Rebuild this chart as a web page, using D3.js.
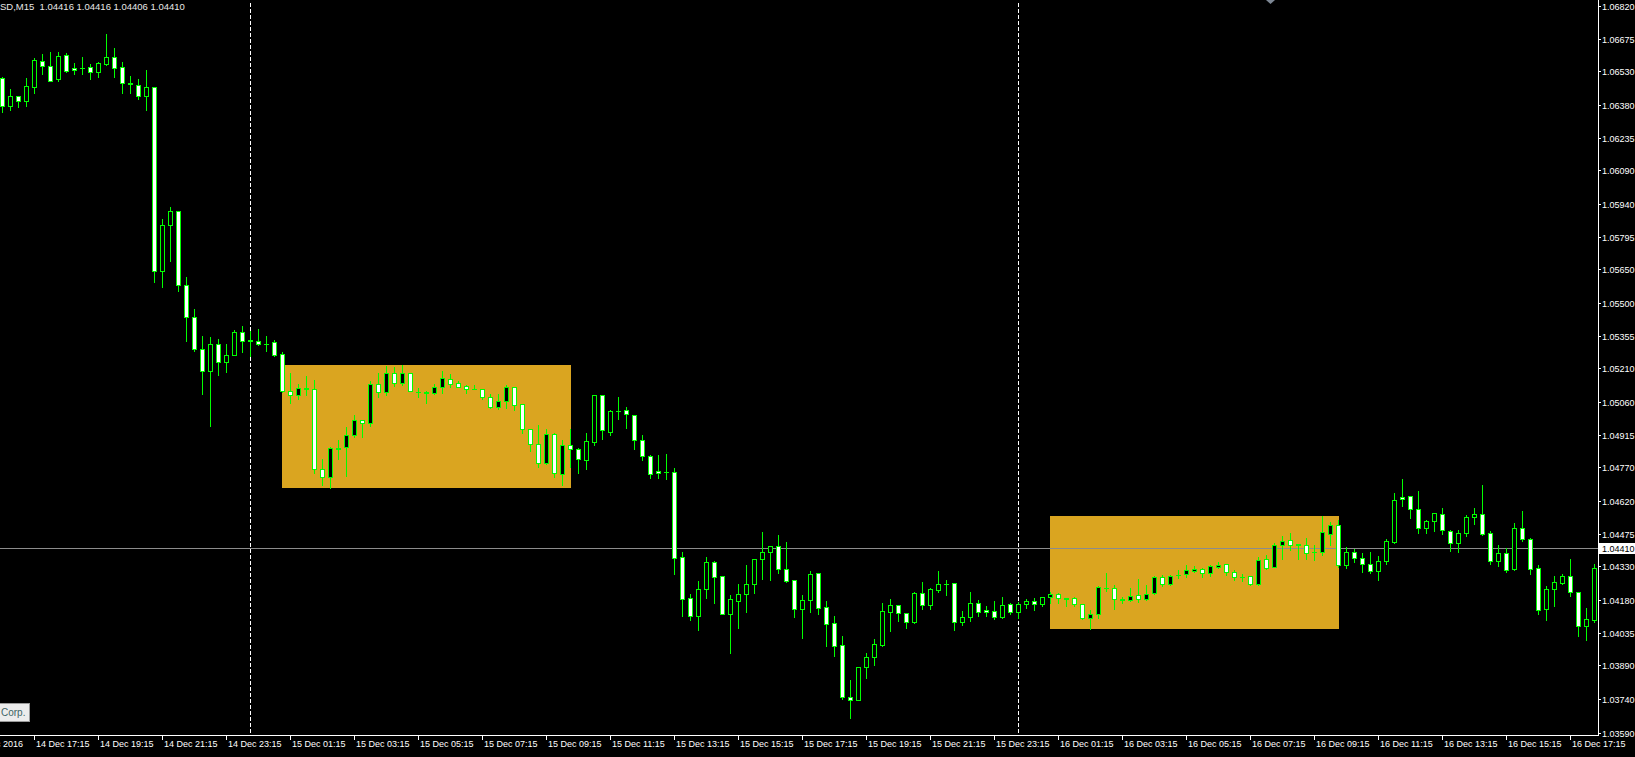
<!DOCTYPE html>
<html><head><meta charset="utf-8">
<script src="https://cdn.jsdelivr.net/npm/d3@7"></script>
<style>html,body{margin:0;padding:0;background:#000;overflow:hidden}svg{display:block}</style>
</head><body><svg id="c" width="1635" height="757"></svg>
<script>
// ---------- data ----------
const titleText = "SD,M15  1.04416 1.04416 1.04406 1.04410";
const firstBarTime = "14 Dec 2016 16:15";
const barMinutes = 15;

const opens = [
1.06498,1.06374,1.06418,1.06396,1.06461,1.06574,1.06552,1.06497,1.06600,1.06543,
1.06546,1.06547,1.06528,1.06563,1.06592,1.06547,1.06476,1.06471,1.06421,1.06458,
1.05640,1.05845,1.05907,1.05578,1.05436,1.05294,1.05196,1.05316,1.05236,1.05271,
1.05369,1.05332,1.05329,1.05319,1.05325,1.05273,1.05107,1.05092,1.05124,1.05116,
1.04761,1.04725,1.04852,1.04861,1.04915,1.04978,1.04965,1.05138,1.05106,1.05187,
1.05146,1.05187,1.05104,1.05106,1.05098,1.05128,1.05161,1.05143,1.05129,1.05119,
1.05116,1.05081,1.05039,1.05063,1.05125,1.05051,1.04941,1.04872,1.04787,1.04916,
1.04738,1.04867,1.04849,1.04803,1.04880,1.05089,1.04928,1.05020,1.05023,1.05000,
1.04889,1.04818,1.04752,1.04749,1.04747,1.04369,1.04187,1.04110,1.04227,1.04347,
1.04285,1.04119,1.04177,1.04205,1.04249,1.04363,1.04392,1.04418,1.04316,1.04267,
1.04138,1.04178,1.04298,1.04147,1.04076,1.03978,1.03747,1.03734,1.03880,1.03925,
1.03981,1.04128,1.04156,1.04120,1.04080,1.04209,1.04156,1.04226,1.04251,1.04254,
1.04080,1.04106,1.04165,1.04134,1.04132,1.04106,1.04160,1.04125,1.04160,1.04174,
1.04160,1.04192,1.04205,1.04187,1.04187,1.04160,1.04098,1.04116,1.04232,1.04232,
1.04183,1.04178,1.04203,1.04186,1.04209,1.04280,1.04252,1.04289,1.04294,1.04310,
1.04316,1.04301,1.04328,1.04338,1.04303,1.04283,1.04285,1.04249,1.04360,1.04328,
1.04423,1.04445,1.04427,1.04423,1.04393,1.04392,1.04474,1.04512,1.04334,1.04392,
1.04365,1.04338,1.04307,1.04352,1.04436,1.04636,1.04641,1.04583,1.04498,1.04529,
1.04561,1.04485,1.04432,1.04476,1.04547,1.04561,1.04476,1.04352,1.04387,1.04316,
1.04498,1.04449,1.04320,1.04138,1.04227,1.04254,1.04285,1.04214,1.04063,1.04089];

const highs = [
1.06503,1.06449,1.06421,1.06498,1.06589,1.06606,1.06615,1.06615,1.06609,1.06566,
1.06593,1.06562,1.06571,1.06695,1.06633,1.06571,1.06508,1.06494,1.06535,1.06460,
1.05873,1.05926,1.05908,1.05615,1.05473,1.05353,1.05348,1.05340,1.05317,1.05380,
1.05397,1.05375,1.05384,1.05353,1.05335,1.05282,1.05187,1.05140,1.05175,1.05158,
1.04806,1.04858,1.04891,1.04947,1.05000,1.04980,1.05153,1.05187,1.05220,1.05214,
1.05223,1.05187,1.05122,1.05107,1.05140,1.05196,1.05184,1.05155,1.05134,1.05134,
1.05116,1.05095,1.05095,1.05134,1.05125,1.05051,1.04941,1.04956,1.04938,1.04924,
1.04891,1.04938,1.04855,1.04922,1.05091,1.05091,1.05023,1.05082,1.05038,1.05002,
1.04913,1.04824,1.04824,1.04829,1.04766,1.04393,1.04205,1.04264,1.04371,1.04353,
1.04285,1.04202,1.04251,1.04335,1.04362,1.04482,1.04420,1.04469,1.04437,1.04269,
1.04202,1.04309,1.04300,1.04175,1.04109,1.04020,1.03824,1.03880,1.03943,1.04006,
1.04166,1.04184,1.04158,1.04122,1.04214,1.04260,1.04232,1.04309,1.04269,1.04255,
1.04131,1.04215,1.04180,1.04153,1.04175,1.04193,1.04165,1.04172,1.04183,1.04187,
1.04195,1.04217,1.04209,1.04189,1.04193,1.04163,1.04134,1.04242,1.04300,1.04245,
1.04193,1.04233,1.04273,1.04245,1.04285,1.04291,1.04292,1.04313,1.04334,1.04332,
1.04320,1.04334,1.04349,1.04338,1.04313,1.04297,1.04285,1.04369,1.04380,1.04432,
1.04464,1.04477,1.04430,1.04455,1.04423,1.04553,1.04526,1.04535,1.04415,1.04406,
1.04387,1.04392,1.04375,1.04451,1.04655,1.04718,1.04641,1.04664,1.04535,1.04566,
1.04589,1.04489,1.04489,1.04556,1.04589,1.04691,1.04485,1.04424,1.04409,1.04521,
1.04575,1.04454,1.04334,1.04240,1.04285,1.04294,1.04360,1.04215,1.04143,1.04338];

const lows = [
1.06350,1.06357,1.06371,1.06375,1.06433,1.06519,1.06486,1.06486,1.06526,1.06519,
1.06519,1.06497,1.06506,1.06557,1.06504,1.06434,1.06434,1.06406,1.06357,1.05594,
1.05572,1.05688,1.05554,1.05332,1.05288,1.05096,1.04954,1.05181,1.05194,1.05268,
1.05283,1.05265,1.05313,1.05288,1.05265,1.05105,1.05054,1.05072,1.05092,1.04746,
1.04691,1.04679,1.04806,1.04732,1.04906,1.04906,1.04955,1.05084,1.05092,1.05131,
1.05137,1.05107,1.05081,1.05054,1.05097,1.05101,1.05128,1.05128,1.05098,1.05116,
1.05072,1.05033,1.05027,1.05033,1.05024,1.04921,1.04844,1.04769,1.04786,1.04728,
1.04689,1.04772,1.04743,1.04762,1.04869,1.04897,1.04913,1.04986,1.04944,1.04851,
1.04803,1.04722,1.04722,1.04718,1.04295,1.04110,1.04091,1.04046,1.04190,1.04166,
1.04119,1.03946,1.04055,1.04126,1.04212,1.04274,1.04269,1.04301,1.04260,1.04104,
1.04011,1.04126,1.04117,1.03975,1.03932,1.03738,1.03657,1.03734,1.03832,1.03892,
1.03977,1.04043,1.04088,1.04057,1.04079,1.04141,1.04141,1.04217,1.04203,1.04048,
1.04070,1.04088,1.04110,1.04110,1.04097,1.04101,1.04118,1.04101,1.04146,1.04137,
1.04155,1.04168,1.04168,1.04154,1.04154,1.04094,1.04052,1.04100,1.04218,1.04141,
1.04166,1.04174,1.04172,1.04181,1.04208,1.04243,1.04245,1.04276,1.04280,1.04306,
1.04280,1.04286,1.04322,1.04292,1.04270,1.04266,1.04248,1.04246,1.04317,1.04326,
1.04363,1.04403,1.04362,1.04362,1.04359,1.04381,1.04426,1.04325,1.04323,1.04347,
1.04306,1.04301,1.04270,1.04338,1.04435,1.04599,1.04546,1.04479,1.04479,1.04488,
1.04475,1.04399,1.04395,1.04466,1.04519,1.04470,1.04338,1.04332,1.04306,1.04315,
1.04443,1.04297,1.04116,1.04089,1.04155,1.04249,1.04196,1.04018,1.04003,1.04083];

const closes = [
1.06374,1.06418,1.06396,1.06463,1.06578,1.06552,1.06488,1.06596,1.06532,1.06534,
1.06544,1.06528,1.06565,1.06592,1.06546,1.06476,1.06474,1.06421,1.06458,1.05640,
1.05845,1.05911,1.05578,1.05436,1.05294,1.05196,1.05316,1.05236,1.05271,1.05369,
1.05329,1.05334,1.05316,1.05317,1.05267,1.05107,1.05089,1.05122,1.05116,1.04761,
1.04725,1.04854,1.04854,1.04915,1.04978,1.04965,1.05138,1.05106,1.05187,1.05146,
1.05187,1.05107,1.05103,1.05098,1.05125,1.05165,1.05140,1.05128,1.05119,1.05118,
1.05081,1.05039,1.05063,1.05125,1.05048,1.04941,1.04872,1.04790,1.04916,1.04743,
1.04867,1.04849,1.04805,1.04885,1.05089,1.04934,1.05018,1.05021,1.05005,1.04889,
1.04821,1.04741,1.04743,1.04750,1.04368,1.04186,1.04110,1.04227,1.04347,1.04283,
1.04119,1.04183,1.04205,1.04249,1.04360,1.04392,1.04418,1.04316,1.04266,1.04138,
1.04178,1.04294,1.04143,1.04074,1.03977,1.03747,1.03734,1.03880,1.03925,1.03983,
1.04129,1.04156,1.04120,1.04080,1.04209,1.04156,1.04227,1.04249,1.04252,1.04080,
1.04103,1.04165,1.04128,1.04125,1.04106,1.04156,1.04125,1.04160,1.04174,1.04160,
1.04192,1.04205,1.04187,1.04186,1.04160,1.04098,1.04116,1.04236,1.04233,1.04183,
1.04181,1.04199,1.04186,1.04208,1.04280,1.04252,1.04288,1.04291,1.04312,1.04319,
1.04298,1.04329,1.04337,1.04303,1.04283,1.04282,1.04249,1.04356,1.04322,1.04423,
1.04440,1.04426,1.04426,1.04387,1.04392,1.04480,1.04512,1.04337,1.04392,1.04365,
1.04338,1.04307,1.04352,1.04440,1.04623,1.04627,1.04583,1.04498,1.04529,1.04565,
1.04489,1.04432,1.04476,1.04547,1.04561,1.04472,1.04352,1.04387,1.04312,1.04498,
1.04449,1.04316,1.04134,1.04227,1.04258,1.04285,1.04214,1.04063,1.04094,1.04320];

const yTickValues = [1.06820,1.06675,1.06530,1.06380,1.06235,1.06090,1.05940,1.05795,1.05650,1.05500,
  1.05355,1.05210,1.05060,1.04915,1.04770,1.04620,1.04475,1.04330,1.04180,1.04035,1.03890,1.03740,1.03590];
const currentPrice = 1.04410;

const xTickLabels = ["14 Dec 17:15","14 Dec 19:15","14 Dec 21:15","14 Dec 23:15",
  "15 Dec 01:15","15 Dec 03:15","15 Dec 05:15","15 Dec 07:15","15 Dec 09:15","15 Dec 11:15",
  "15 Dec 13:15","15 Dec 15:15","15 Dec 17:15","15 Dec 19:15","15 Dec 21:15","15 Dec 23:15",
  "16 Dec 01:15","16 Dec 03:15","16 Dec 05:15","16 Dec 07:15","16 Dec 09:15","16 Dec 11:15",
  "16 Dec 13:15","16 Dec 15:15","16 Dec 17:15"];
const firstDateLabel = "14 Dec 2016";
const firstDateLabelTime = "14 Dec 2016 15:15";
const periodSeparators = ["15 Dec 2016 00:00","16 Dec 2016 00:00"];

const rectFrom = ["15 Dec 2016 01:00","16 Dec 2016 01:00"];
const rectTo   = ["15 Dec 2016 10:00","16 Dec 2016 10:00"];
const rectHigh = [1.05224, 1.04553];
const rectLow  = [1.04682, 1.04055];

const chartShiftTime = "16 Dec 2016 07:45";
const footerText = "Corp.";

// ---------- drawing ----------
const W = 1635, H = 757, plotR = 1598, plotB = 735;
const FONT = "'Liberation Sans', Arial, sans-serif";
const FS = 9;
const parse = d3.timeParse("%d %b %Y %H:%M");
const t0 = parse(firstBarTime);
const barTimes = opens.map((_, i) => d3.timeMinute.offset(t0, barMinutes * i));

const x = d3.scaleTime().domain([barTimes[0], barTimes[barTimes.length - 1]]).range([2, 1594]);
const y = d3.scaleLinear().domain([1.03590, 1.06820]).range([732.7, 6]);

const svg = d3.select("#c");
svg.append("rect").attr("width", W).attr("height", H).attr("fill", "#000");

svg.append("defs").append("clipPath").attr("id", "plot")
  .append("rect").attr("x", 0).attr("y", 0).attr("width", plotR).attr("height", plotB);
const plot = svg.append("g").attr("clip-path", "url(#plot)");

// rectangles
plot.selectAll("rect.box").data(rectFrom).join("rect").attr("class", "box")
  .attr("x", (d) => Math.round(x(parse(d))))
  .attr("y", (d, i) => Math.round(y(rectHigh[i])))
  .attr("width", (d, i) => Math.round(x(parse(rectTo[i]))) - Math.round(x(parse(d))) + 1)
  .attr("height", (d, i) => Math.round(y(rectLow[i])) - Math.round(y(rectHigh[i])) + 1)
  .attr("fill", "#DAA520");

// period separators
plot.selectAll("line.sep").data(periodSeparators).join("line").attr("class", "sep")
  .attr("x1", (d) => Math.round(x(parse(d))) + 0.5).attr("x2", (d) => Math.round(x(parse(d))) + 0.5)
  .attr("y1", 3).attr("y2", plotB)
  .attr("stroke", "#fff").attr("stroke-width", 1).attr("stroke-dasharray", "4,2")
  .attr("shape-rendering", "crispEdges");

// current price line
const py = Math.round(y(currentPrice)) + 0.5;
plot.append("line").attr("x1", 0).attr("x2", plotR).attr("y1", py).attr("y2", py)
  .attr("stroke", "#8c8c8c").attr("stroke-width", 1).attr("shape-rendering", "crispEdges");

// candles
const LIME = "#00ff00";
const cg = plot.append("g").attr("shape-rendering", "crispEdges");
opens.forEach((o, i) => {
  const c = closes[i], cx = Math.round(x(barTimes[i]));
  const yh = Math.round(y(highs[i])), yl = Math.round(y(lows[i]));
  cg.append("line").attr("x1", cx + 0.5).attr("x2", cx + 0.5).attr("y1", yh).attr("y2", yl + 1)
    .attr("stroke", LIME).attr("stroke-width", 1);
  const top = Math.round(y(Math.max(o, c))), bot = Math.round(y(Math.min(o, c)));
  if (bot - top < 1) {
    cg.append("line").attr("x1", cx - 2).attr("x2", cx + 3).attr("y1", top + 0.5).attr("y2", top + 0.5)
      .attr("stroke", LIME).attr("stroke-width", 1);
  } else {
    cg.append("rect").attr("x", cx - 1.5).attr("y", top + 0.5).attr("width", 4).attr("height", bot - top)
      .attr("fill", c > o ? "#000" : "#fff").attr("stroke", LIME).attr("stroke-width", 1);
  }
});

// axes lines
svg.append("line").attr("x1", plotR + 0.5).attr("x2", plotR + 0.5).attr("y1", 0).attr("y2", plotB + 1)
  .attr("stroke", "#fff").attr("shape-rendering", "crispEdges");
svg.append("line").attr("x1", 0).attr("x2", plotR + 1).attr("y1", plotB + 0.5).attr("y2", plotB + 0.5)
  .attr("stroke", "#fff").attr("shape-rendering", "crispEdges");

// y axis
const yAxis = d3.axisRight(y).tickValues(yTickValues).tickFormat(d3.format(".5f"))
  .tickSize(3).tickSizeOuter(0).tickPadding(1);
const yg = svg.append("g").attr("transform", `translate(${plotR},0)`).call(yAxis);
yg.select(".domain").remove();
yg.selectAll(".tick line").attr("stroke", "#fff").attr("shape-rendering", "crispEdges");
yg.selectAll(".tick").attr("transform", (d) => `translate(0,${Math.round(y(d)) + 0.5})`);
yg.selectAll(".tick text").attr("fill", "#fff").attr("font-family", FONT).attr("font-size", FS)
  .attr("dy", null).attr("y", 3.2);

// current price label
const pl = svg.append("g").attr("transform", `translate(0,${py})`);
pl.append("rect").attr("x", 1599).attr("y", -5.5).attr("width", 40).attr("height", 11).attr("fill", "#fff");
pl.append("text").attr("x", 1602).attr("y", 3.2).attr("fill", "#000").attr("font-family", FONT)
  .attr("font-size", FS).text(d3.format(".5f")(currentPrice));

// x axis
const tickTimes = xTickLabels.map((s) => parse(s.replace(/^(\d+ \w+) /, "$1 2016 ")));
const xAxis = d3.axisBottom(x).tickValues(tickTimes).tickFormat(d3.timeFormat("%d %b %H:%M"))
  .tickSize(5).tickSizeOuter(0);
const xg = svg.append("g").attr("transform", `translate(0,${plotB})`).call(xAxis);
xg.select(".domain").remove();
xg.selectAll(".tick").attr("transform", (d) => `translate(${Math.round(x(d)) + 0.5},0)`);
xg.selectAll(".tick line").attr("stroke", "#fff").attr("shape-rendering", "crispEdges").attr("y1", 1);
xg.selectAll(".tick text").attr("fill", "#fff").attr("font-family", FONT).attr("font-size", FS)
  .attr("text-anchor", "start").attr("x", 1.5).attr("y", 12).attr("dy", null);

// first date label (partially off-screen, as in the reference)
svg.append("text").attr("x", Math.round(x(parse(firstDateLabelTime))) + 2).attr("y", plotB + 12)
  .attr("fill", "#fff").attr("font-family", FONT).attr("font-size", FS).text(firstDateLabel);

// title
svg.append("text").attr("x", 0).attr("y", 9.5).attr("fill", "#e8e8e8").attr("font-family", FONT)
  .attr("font-size", FS + 0.5).attr("xml:space", "preserve").style("white-space", "pre").text(titleText);

// chart shift marker
const sx = Math.round(x(parse(chartShiftTime))) + 4;
svg.append("path").attr("d", `M${sx - 4},0 L${sx + 5},0 L${sx + 0.5},4 Z`).attr("fill", "#7d8794");

// footer box
svg.append("rect").attr("x", -1.5).attr("y", 703.5).attr("width", 31).attr("height", 18)
  .attr("fill", "#ececec").attr("stroke", "#9a9a9a").attr("shape-rendering", "crispEdges");
svg.append("text").attr("x", 1).attr("y", 716).attr("fill", "#3e6464").attr("font-family", FONT)
  .attr("font-size", 10).text(footerText);
</script></body></html>
